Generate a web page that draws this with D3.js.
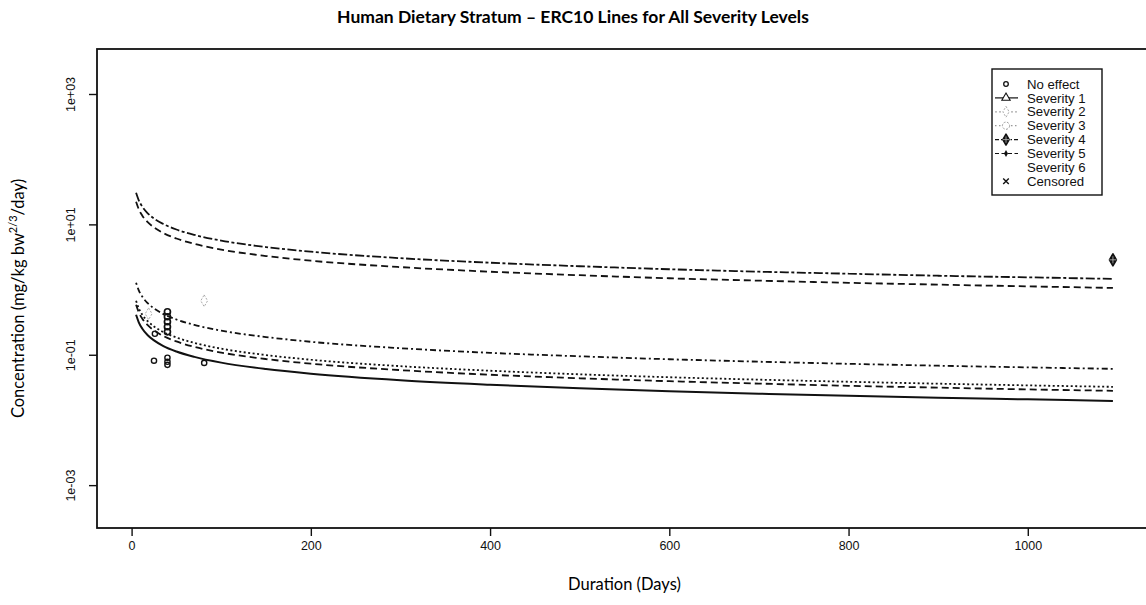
<!DOCTYPE html>
<html>
<head>
<meta charset="utf-8">
<script src="https://cdn.jsdelivr.net/npm/d3@7"></script>
<style>
  body { margin: 0; background: #fff; }
  svg { display: block; }
</style>
</head>
<body>
<svg id="chart" width="1146" height="605"></svg>
<script>
// Durations (days) at which each ERC10 curve is evaluated
const days = [5, 8, 12, 18, 25, 35, 50, 70, 100, 150, 200, 300, 400, 500, 600, 700, 800, 900, 1000, 1095];

// ERC10 concentration curves (mg/kg bw^2/3/day), one per severity level
const erc10Sev1 = [0.410, 0.315, 0.251, 0.199, 0.166, 0.137, 0.112, 0.0927, 0.0757, 0.0603, 0.0512, 0.0407, 0.0347, 0.0305, 0.0275, 0.0253, 0.0234, 0.0219, 0.0207, 0.0196];
const erc10Sev2 = [0.673, 0.516, 0.411, 0.327, 0.272, 0.224, 0.184, 0.152, 0.124, 0.0989, 0.0839, 0.0668, 0.0569, 0.0501, 0.0452, 0.0415, 0.0385, 0.0360, 0.0339, 0.0322];
const erc10Sev3 = [1.27, 0.975, 0.776, 0.617, 0.513, 0.424, 0.347, 0.287, 0.234, 0.187, 0.158, 0.126, 0.107, 0.0946, 0.0853, 0.0783, 0.0726, 0.0679, 0.0640, 0.0608];
const erc10Sev4 = [30.5, 23.4, 18.7, 14.8, 12.3, 10.2, 8.34, 6.90, 5.64, 4.49, 3.81, 3.03, 2.58, 2.28, 2.05, 1.88, 1.75, 1.63, 1.54, 1.46];
const erc10Sev5 = [0.585, 0.449, 0.357, 0.284, 0.236, 0.195, 0.160, 0.132, 0.108, 0.0859, 0.0729, 0.0581, 0.0494, 0.0436, 0.0393, 0.0361, 0.0334, 0.0313, 0.0294, 0.0280];
const erc10Sev6 = [22.2, 17.1, 13.6, 10.8, 8.97, 7.41, 6.07, 5.02, 4.10, 3.27, 2.77, 2.21, 1.88, 1.66, 1.49, 1.37, 1.27, 1.19, 1.12, 1.06];

// Observed study points
const noEffectDays = [25, 40, 40, 40, 81, 26];
const noEffectConc = [0.081, 0.090, 0.078, 0.070, 0.075, 0.21];
const sev1Days = [40, 40, 40, 40, 40];
const sev1Conc = [0.457, 0.383, 0.321, 0.269, 0.225];
const sev2Days = [81, 19];
const sev2Conc = [0.673, 0.425];
const sev4Days = [1095];
const sev4Conc = [2.86];

// Axis ticks
const xTicks = [0, 200, 400, 600, 800, 1000];
const yTicks = [1e-3, 1e-1, 1e1, 1e3];
const yTickLabels = ["1e-03", "1e-01", "1e+01", "1e+03"];

// Legend entries
const legendLabels = ["No effect", "Severity 1", "Severity 2", "Severity 3", "Severity 4", "Severity 5", "Severity 6", "Censored"];

const svg = d3.select("#chart");
const plot = { left: 97, right: 1152, top: 49, bottom: 528 };

const x = d3.scaleLinear().domain([-38.6, 1138.6]).range([plot.left, plot.right]);
const y = d3.scaleLog().domain([2.2e-4, 4.9e3]).range([plot.bottom, plot.top]);

const tickFont = "'Liberation Sans', Arial, sans-serif";
const titleFont = "Lato, 'Open Sans', sans-serif";

svg.append("defs").append("clipPath").attr("id", "plotClip")
  .append("rect")
  .attr("x", plot.left).attr("y", plot.top)
  .attr("width", plot.right - plot.left).attr("height", plot.bottom - plot.top);

// Title
svg.append("text")
  .attr("x", 573).attr("y", 23)
  .attr("text-anchor", "middle")
  .attr("font-family", titleFont).attr("font-weight", "bold").attr("font-size", 17.5)
  .text("Human Dietary Stratum \u2013 ERC10 Lines for All Severity Levels");

// Curves
const lineStyles = [
  { values: erc10Sev1, dash: null, width: 2 },
  { values: erc10Sev2, dash: "2,2.5", width: 1.8 },
  { values: erc10Sev3, dash: "2,3,6,3", width: 1.8 },
  { values: erc10Sev4, dash: "9,2.5,3,2.5", width: 1.8 },
  { values: erc10Sev5, dash: "7,4", width: 1.8 },
  { values: erc10Sev6, dash: "7,4", width: 1.8 }
];

const line = d3.line()
  .x(d => x(d[0]))
  .y(d => y(d[1]))
  .curve(d3.curveMonotoneX);

const curves = svg.append("g").attr("clip-path", "url(#plotClip)");
lineStyles.forEach(s => {
  curves.append("path")
    .datum(days.map((d, i) => [d, s.values[i]]))
    .attr("d", line)
    .attr("fill", "none")
    .attr("stroke", "#111")
    .attr("stroke-width", s.width)
    .attr("stroke-dasharray", s.dash);
});

// Observed points
const pts = svg.append("g").attr("clip-path", "url(#plotClip)");
pts.selectAll(".noeff").data(noEffectDays.map((d, i) => [d, noEffectConc[i]]))
  .join("circle")
  .attr("cx", d => x(d[0])).attr("cy", d => y(d[1])).attr("r", 2.6)
  .attr("fill", "none").attr("stroke", "#111").attr("stroke-width", 1.4);

pts.selectAll(".sev1").data(sev1Days.map((d, i) => [d, sev1Conc[i]]))
  .join("circle")
  .attr("cx", d => x(d[0])).attr("cy", d => y(d[1])).attr("r", 3)
  .attr("fill", "none").attr("stroke", "#111").attr("stroke-width", 1.7);

const diamond = d3.symbol().type(d3.symbolDiamond).size(40);
pts.selectAll(".sev2").data(sev2Days.map((d, i) => [d, sev2Conc[i]]))
  .join("path")
  .attr("transform", d => `translate(${x(d[0])},${y(d[1])})`)
  .attr("d", diamond)
  .attr("fill", "none").attr("stroke", "#aaa").attr("stroke-width", 1)
  .attr("stroke-dasharray", "2,1.5");

// Filled diamond with a light cross through it
function diamondPlus(g, cx, cy, s) {
  g.append("path")
    .attr("transform", `translate(${cx},${cy})`)
    .attr("d", d3.symbol().type(d3.symbolDiamond).size(s)())
    .attr("fill", "#111").attr("stroke", "#111").attr("stroke-width", 1.6)
    .attr("stroke-linejoin", "round");
  const h = Math.sqrt(s) * 0.55;
  g.append("path")
    .attr("d", `M${cx - h},${cy}H${cx + h}M${cx},${cy - h}V${cy + h}`)
    .attr("stroke", "#bbb").attr("stroke-width", 0.8);
}
sev4Days.forEach((d, i) => diamondPlus(pts, x(d), y(sev4Conc[i]), 42));

// Frame
svg.append("rect")
  .attr("x", plot.left).attr("y", plot.top)
  .attr("width", plot.right - plot.left).attr("height", plot.bottom - plot.top)
  .attr("fill", "none").attr("stroke", "#111").attr("stroke-width", 1.8);

// X axis
const xAxis = svg.append("g")
  .attr("transform", `translate(0,${plot.bottom})`)
  .call(d3.axisBottom(x).tickValues(xTicks).tickSize(8).tickPadding(5).tickFormat(d3.format("d")));
xAxis.select(".domain").remove();
xAxis.selectAll("line").attr("stroke", "#111").attr("stroke-width", 1.4);
xAxis.selectAll("text").attr("font-family", tickFont).attr("font-size", 12.5).attr("fill", "#111");

// Y axis
const yAxis = svg.append("g")
  .attr("transform", `translate(${plot.left},0)`)
  .call(d3.axisLeft(y).tickValues(yTicks).tickSize(8).tickFormat(""));
yAxis.select(".domain").remove();
yAxis.selectAll("line").attr("stroke", "#111").attr("stroke-width", 1.4);
yAxis.selectAll(".tick").append("text")
  .attr("transform", "translate(-22,0) rotate(-90)")
  .attr("text-anchor", "middle")
  .attr("font-family", tickFont).attr("font-size", 12.5).attr("fill", "#111")
  .text((d, i) => yTickLabels[i]);

// Axis titles
svg.append("text")
  .attr("x", (plot.left + plot.right) / 2).attr("y", 590)
  .attr("text-anchor", "middle")
  .attr("font-family", titleFont).attr("font-size", 16.5)
  .text("Duration (Days)");

const yTitle = svg.append("text")
  .attr("transform", `translate(24,${(plot.top + plot.bottom) / 2 + 10}) rotate(-90)`)
  .attr("text-anchor", "middle")
  .attr("font-family", titleFont).attr("font-size", 16.5);
yTitle.append("tspan").text("Concentration (mg/kg bw");
yTitle.append("tspan").attr("dy", -7).attr("font-size", 11).text("2/3");
yTitle.append("tspan").attr("dy", 7).text("/day)");

// Legend
const lg = svg.append("g");
lg.append("rect")
  .attr("x", 992).attr("y", 69).attr("width", 110).attr("height", 126)
  .attr("fill", "#fff").attr("stroke", "#111").attr("stroke-width", 1.4);

const legendDash = [null, "none", "2,2", "1.5,2.5", "4,2,1.5,2", "4,2.5", null, null];
const legendStroke = ["#111", "#111", "#aaa", "#999", "#111", "#111", "#111", "#111"];
legendLabels.forEach((lab, i) => {
  const cy = 84 + i * 13.9;
  const sx = 1006;
  if (legendDash[i] !== null) {
    lg.append("line")
      .attr("x1", 995).attr("x2", 1018).attr("y1", cy).attr("y2", cy)
      .attr("stroke", legendStroke[i]).attr("stroke-width", 1.2)
      .attr("stroke-dasharray", legendDash[i] === "none" ? null : legendDash[i]);
  }
  if (i === 0) {
    lg.append("circle").attr("cx", sx).attr("cy", cy).attr("r", 2.3)
      .attr("fill", "none").attr("stroke", "#111").attr("stroke-width", 1.3);
  } else if (i === 1) {
    lg.append("path").attr("transform", `translate(${sx},${cy})`)
      .attr("d", d3.symbol().type(d3.symbolTriangle).size(30)())
      .attr("fill", "#fff").attr("stroke", "#111").attr("stroke-width", 1.1);
  } else if (i === 2) {
    lg.append("path").attr("transform", `translate(${sx},${cy})`)
      .attr("d", d3.symbol().type(d3.symbolDiamond).size(34)())
      .attr("fill", "#fff").attr("stroke", "#aaa").attr("stroke-width", 1)
      .attr("stroke-dasharray", "2,1.5");
  } else if (i === 3) {
    lg.append("circle").attr("cx", sx).attr("cy", cy).attr("r", 3.6)
      .attr("fill", "#fff").attr("stroke", "#999").attr("stroke-width", 1)
      .attr("stroke-dasharray", "2,1.5");
  } else if (i === 4) {
    diamondPlus(lg, sx, cy, 34);
  } else if (i === 5) {
    lg.append("path").attr("transform", `translate(${sx},${cy})`)
      .attr("d", d3.symbol().type(d3.symbolDiamond).size(14)())
      .attr("fill", "#111");
  } else if (i === 7) {
    lg.append("path").attr("transform", `translate(${sx},${cy})`)
      .attr("d", d3.symbol().type(d3.symbolX).size(22)())
      .attr("fill", "none").attr("stroke", "#111").attr("stroke-width", 1.4);
  }
  lg.append("text")
    .attr("x", 1027).attr("y", cy + 4.6)
    .attr("font-family", tickFont).attr("font-size", 13.2).attr("fill", "#111")
    .text(lab);
});
</script>
</body>
</html>
